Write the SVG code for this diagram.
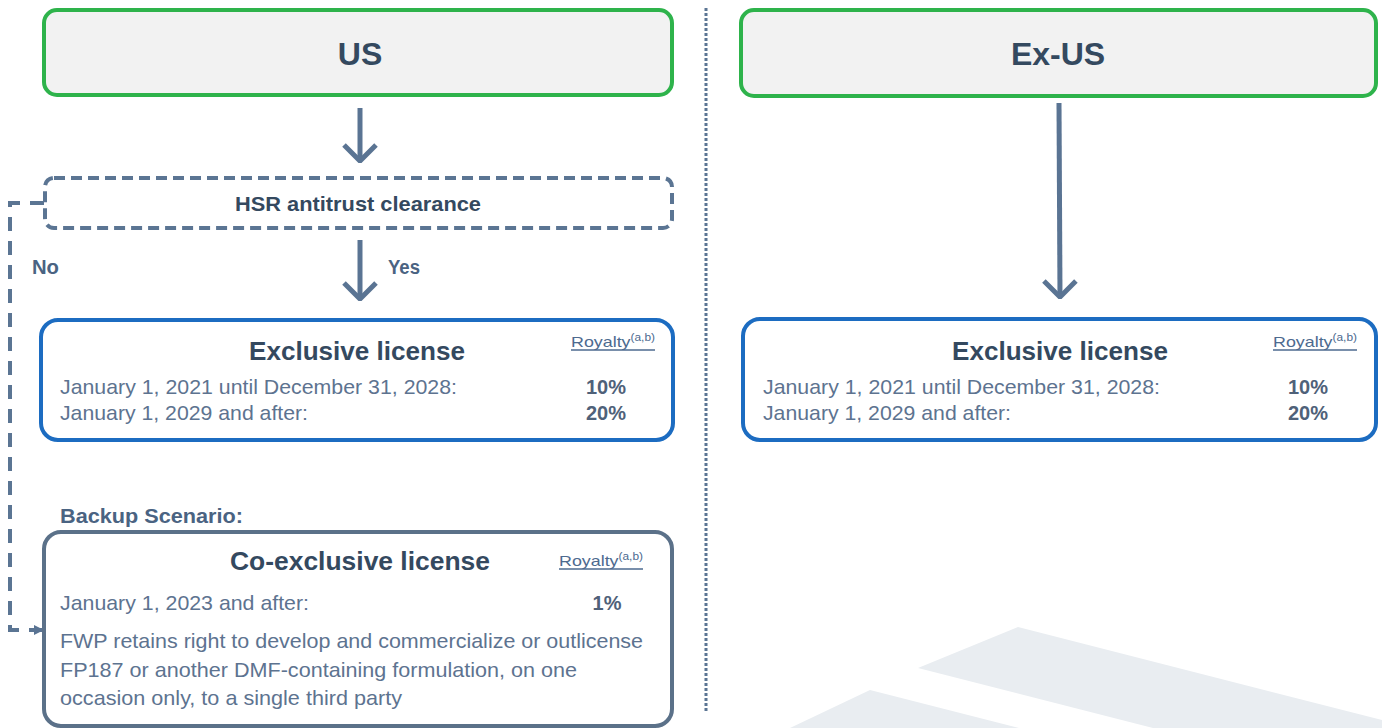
<svg xmlns="http://www.w3.org/2000/svg" width="1382" height="728" viewBox="0 0 1382 728">
<style>
text{font-family:"Liberation Sans",Arial,sans-serif}
.title{font-size:32px;font-weight:bold;fill:#34495f;text-anchor:middle}
.hd{font-size:26px;font-weight:bold;fill:#34495f;text-anchor:middle}
.body{font-size:21px;fill:#5d7390}
.pct{font-size:20px;font-weight:bold;fill:#4f6179;text-anchor:middle}
.roy{font-size:15px;fill:#4d6a8f}
.sup{font-size:10px}
.uline{stroke:#4d6a8f;stroke-width:1.3}
.lbl{font-size:20px;font-weight:bold;fill:#4a6382}
.green{fill:#f2f2f2;stroke:#2eb34b;stroke-width:4}
.blue{fill:#fff;stroke:#1c6cc1;stroke-width:4}
.grey{fill:#fff;stroke:#5b7189;stroke-width:4}
.dash{fill:#fff;stroke:#5b7593;stroke-width:4;stroke-dasharray:11 6}
.arr{stroke:#5a7493;stroke-width:5;fill:none}
</style>
<defs>
<marker id="chev" viewBox="0 0 20 36" refX="18" refY="18" markerWidth="20" markerHeight="36" markerUnits="userSpaceOnUse" orient="auto">
<path d="M2,2 L18,18 L2,34" fill="none" stroke="#5a7493" stroke-width="5"/>
</marker>
<marker id="tri" viewBox="0 0 10 10" refX="10" refY="5" markerWidth="10" markerHeight="10" markerUnits="userSpaceOnUse" orient="auto">
<path d="M0,0 L10,5 L0,10 z" fill="#5a7493"/>
</marker>
</defs>
<g id="watermark">
<polygon points="1018,627 918,668 1153,728 1382,728 1382,720" fill="#e9edf1"/>
<polygon points="870,690 790,728 1019,728" fill="#e9edf1"/>
</g>
<g id="separator">
<line x1="706" y1="8" x2="706" y2="713" stroke="#5b7593" stroke-width="3" stroke-dasharray="3 2"/>
</g>
<g id="connectors">
<line class="arr" x1="360" y1="108" x2="360" y2="161" marker-end="url(#chev)"/>
<line class="arr" x1="360" y1="240" x2="360" y2="299" marker-end="url(#chev)"/>
<line class="arr" x1="1059" y1="103" x2="1060" y2="297" marker-end="url(#chev)"/>
<path d="M44,203 H10 V630 H44" fill="none" stroke="#5b7593" stroke-width="4" stroke-dasharray="14 10" marker-end="url(#tri)"/>
<text class="lbl" x="388" y="274" textLength="32" lengthAdjust="spacingAndGlyphs">Yes</text>
<text class="lbl" x="32" y="274" textLength="27" lengthAdjust="spacingAndGlyphs">No</text>
</g>
<g id="us">
<rect class="green" x="44" y="10" width="628" height="85" rx="13"/>
<text class="title" x="360" y="65">US</text>
</g>
<g id="exus">
<rect class="green" x="741" y="10" width="635" height="86" rx="13"/>
<text class="title" x="1058" y="65">Ex-US</text>
</g>
<g id="hsr">
<rect class="dash" x="45" y="178" width="627" height="50" rx="9"/>
<text x="358" y="211" text-anchor="middle" style="font-size:21px;font-weight:bold;fill:#34495f" textLength="246" lengthAdjust="spacingAndGlyphs">HSR antitrust clearance</text>
</g>
<g id="us-exclusive">
<rect class="blue" x="41" y="320" width="632" height="120" rx="17"/>
<text class="hd" x="357" y="360" textLength="216" lengthAdjust="spacingAndGlyphs">Exclusive license</text>
<text class="roy" x="571" y="347" textLength="84" lengthAdjust="spacingAndGlyphs">Royalty<tspan class="sup" dy="-6">(a,b)</tspan></text>
<line class="uline" x1="571" y1="350" x2="655" y2="350"/>
<text class="body" x="60" y="394" textLength="397" lengthAdjust="spacingAndGlyphs">January 1, 2021 until December 31, 2028:</text>
<text class="pct" x="606" y="394">10%</text>
<text class="body" x="60" y="420" textLength="248" lengthAdjust="spacingAndGlyphs">January 1, 2029 and after:</text>
<text class="pct" x="606" y="420">20%</text>
</g>
<g id="exus-exclusive">
<rect class="blue" x="743" y="319" width="633" height="121" rx="17"/>
<text class="hd" x="1060" y="360" textLength="216" lengthAdjust="spacingAndGlyphs">Exclusive license</text>
<text class="roy" x="1273" y="347" textLength="84" lengthAdjust="spacingAndGlyphs">Royalty<tspan class="sup" dy="-6">(a,b)</tspan></text>
<line class="uline" x1="1273" y1="350" x2="1357" y2="350"/>
<text class="body" x="763" y="394" textLength="397" lengthAdjust="spacingAndGlyphs">January 1, 2021 until December 31, 2028:</text>
<text class="pct" x="1308" y="394">10%</text>
<text class="body" x="763" y="420" textLength="248" lengthAdjust="spacingAndGlyphs">January 1, 2029 and after:</text>
<text class="pct" x="1308" y="420">20%</text>
</g>
<g id="backup">
<text class="lbl" x="60" y="523" textLength="183" lengthAdjust="spacingAndGlyphs">Backup Scenario:</text>
<rect class="grey" x="44" y="532" width="628" height="194" rx="17"/>
<text class="hd" x="360" y="570" textLength="260" lengthAdjust="spacingAndGlyphs">Co-exclusive license</text>
<text class="roy" x="559" y="566" textLength="84" lengthAdjust="spacingAndGlyphs">Royalty<tspan class="sup" dy="-6">(a,b)</tspan></text>
<line class="uline" x1="559" y1="569" x2="643" y2="569"/>
<text class="body" x="60" y="610" textLength="249" lengthAdjust="spacingAndGlyphs">January 1, 2023 and after:</text>
<text class="pct" x="607" y="610">1%</text>
<text class="body" x="60" y="648" textLength="583" lengthAdjust="spacingAndGlyphs">FWP retains right to develop and commercialize or outlicense</text>
<text class="body" x="60" y="677" textLength="517" lengthAdjust="spacingAndGlyphs">FP187 or another DMF-containing formulation, on one</text>
<text class="body" x="60" y="705" textLength="342" lengthAdjust="spacingAndGlyphs">occasion only, to a single third party</text>
</g>
</svg>
